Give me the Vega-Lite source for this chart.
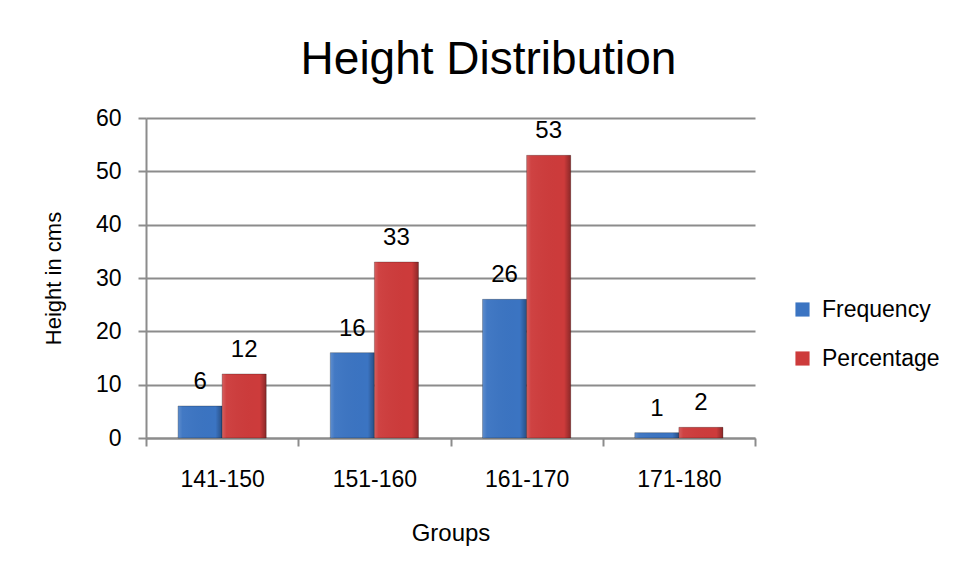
{
  "$schema": "https://vega.github.io/schema/vega-lite/v6.json",
  "width": 609,
  "height": 320,
  "autosize": {"type": "none"},
  "padding": {"left": 146, "top": 118, "right": 202, "bottom": 143},
  "background": "white",
  "title": {
    "text": "Height Distribution",
    "font": "Liberation Sans",
    "fontSize": 46,
    "fontWeight": "normal",
    "color": "black",
    "anchor": "middle",
    "dx": 38,
    "offset": 23
  },
  "data": {
    "values": [
      {"group": "141-150", "series": "Frequency", "value": 6},
      {"group": "141-150", "series": "Percentage", "value": 12},
      {"group": "151-160", "series": "Frequency", "value": 16},
      {"group": "151-160", "series": "Percentage", "value": 33},
      {"group": "161-170", "series": "Frequency", "value": 26},
      {"group": "161-170", "series": "Percentage", "value": 53},
      {"group": "171-180", "series": "Frequency", "value": 1},
      {"group": "171-180", "series": "Percentage", "value": 2}
    ]
  },
  "encoding": {
    "x": {
      "field": "group",
      "type": "nominal",
      "sort": null,
      "scale": {"paddingInner": 0, "paddingOuter": 0},
      "axis": {
        "title": "Groups",
        "titleFontSize": 24,
        "labelAngle": 0,
        "tickBand": "extent",
        "tickSize": 8,
        "tickColor": "#8c8c8c",
        "tickWidth": 2,
        "domainColor": "#8c8c8c",
        "domainWidth": 2,
        "labelPadding": 22,
        "titlePadding": 30,
        "grid": false
      }
    },
    "xOffset": {
      "field": "series",
      "type": "nominal",
      "scale": {"paddingInner": 0, "paddingOuter": 0.727}
    },
    "y": {
      "field": "value",
      "type": "quantitative",
      "scale": {"domain": [0, 60]},
      "axis": {
        "title": "Height in cms",
        "titleFontSize": 22,
        "values": [0, 10, 20, 30, 40, 50, 60],
        "tickSize": 8,
        "tickColor": "#8c8c8c",
        "tickWidth": 2,
        "domainColor": "#8c8c8c",
        "domainWidth": 2,
        "gridColor": "#8c8c8c",
        "gridWidth": 2,
        "labelPadding": 17,
        "titlePadding": 30
      }
    }
  },
  "layer": [
    {
      "mark": {"type": "bar", "stroke": "rgba(0,0,0,0.25)", "strokeWidth": 1},
      "encoding": {
        "color": {
          "field": "series",
          "type": "nominal",
          "scale": {"domain": ["Frequency", "Percentage"], "range": ["#3b74c2", "#cd3b3b"]},
          "legend": {
            "title": null,
            "orient": "none",
            "legendX": 645,
            "legendY": 180,
            "symbolType": "square",
            "symbolSize": 200,
            "symbolStrokeWidth": 0,
            "labelFontSize": 23,
            "labelFont": "Liberation Sans",
            "labelColor": "black",
            "rowPadding": 25,
            "labelOffset": 8
          }
        }
      }
    },
    {
      "mark": {
        "type": "bar",
        "fill": {
          "x1": 0, "y1": 0, "x2": 1, "y2": 0,
          "gradient": "linear",
          "stops": [
            {"offset": 0, "color": "rgba(255,255,255,0.18)"},
            {"offset": 0.1, "color": "rgba(255,255,255,0.04)"},
            {"offset": 0.85, "color": "rgba(0,0,0,0.0)"},
            {"offset": 1, "color": "rgba(0,0,0,0.32)"}
          ]
        }
      }
    },
    {
      "mark": {
        "type": "text",
        "baseline": "bottom",
        "dy": -12,
        "fontSize": 24,
        "font": "Liberation Sans",
        "color": "black"
      },
      "encoding": {
        "text": {"field": "value", "type": "quantitative"}
      }
    }
  ],
  "config": {
    "view": {"stroke": null},
    "font": "Liberation Sans",
    "axis": {
      "labelFontSize": 23,
      "labelColor": "black",
      "titleFontWeight": "normal",
      "titleColor": "black",
      "labelFont": "Liberation Sans",
      "titleFont": "Liberation Sans"
    }
  }
}
